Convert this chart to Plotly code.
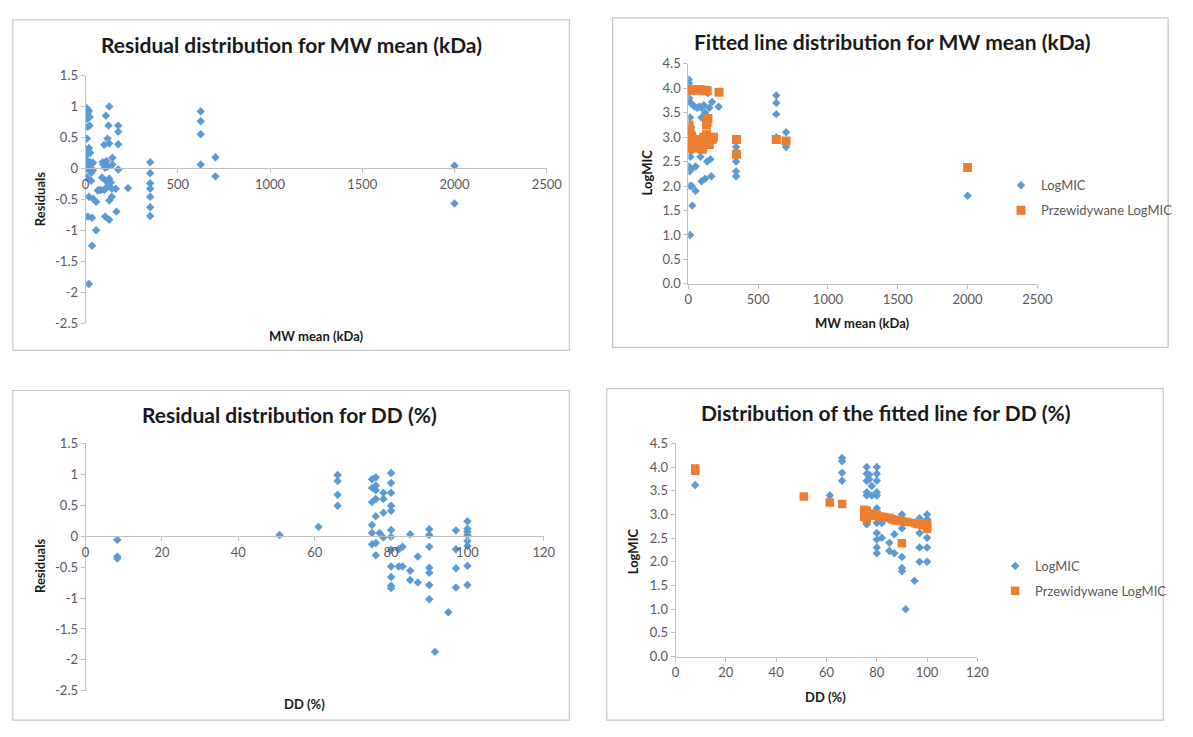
import plotly.graph_objects as go

# ---------------- data ----------------
# Panel 1: residuals vs MW mean (kDa)
mw_res_x = [7, 18, 12, 10, 22, 12, 22, 7, 18, 7, 25, 12, 40, 5, 30, 40, 7, 30, 18, 40, 12, 35, 57, 35, 18, 20, 15, 25, 10,
            66, 83, 101, 57, 96, 106, 113, 110, 128, 101, 119, 128, 124, 89, 110, 128, 137, 106, 128, 128, 142, 142, 145,
            145, 177, 177, 177, 177, 163, 167, 230, 75, 120, 92, 115,
            350, 350, 350, 350, 350, 350, 350,
            624, 624, 624, 624, 704, 704, 2000, 2000]
mw_res_y = [0.97, 0.93, 0.9, 0.8, 0.83, 0.67, 0.69, 0.48, 0.33, 0.22, 0.25, 0.12, 0.09, 0.01, -0.07, -0.03, -0.15, -0.2,
            -0.46, -0.49, -0.78, -0.8, -1.0, -1.25, -1.87, 0.05, -0.02, 0.1, 0.3,
            -0.36, -0.35, -0.35, -0.54, 0.06, 0.01, 0.12, 0.85, 1.0, 0.38, 0.48, 0.4, 0.69, -0.15, -0.2, -0.17, -0.23,
            -0.78, -0.83, -0.52, -0.46, -0.33, 0.06, 0.17, 0.69, 0.59, 0.39, -0.02, -0.33, -0.7, -0.32, -0.35, 0.03,
            0.1, -0.3,
            0.1, -0.08, -0.24, -0.33, -0.46, -0.63, -0.77,
            0.92, 0.76, 0.55, 0.06, 0.18, -0.13, 0.04, -0.57]

# Panel 2: LogMIC and predicted LogMIC vs MW mean (kDa)
mw_fit_x = [3, 5, 8, 5, 10, 12, 20, 15, 5, 10, 20, 12, 28, 12, 52, 25, 8, 10, 18, 25,
            64, 80, 95, 110, 170, 95, 120, 150, 95, 165, 135, 87, 158, 52, 120, 130, 140, 217, 70, 130, 30, 45,
            342, 342, 342, 342, 342, 630, 630, 630, 630, 700, 700, 2000]
mw_logmic = [4.18, 4.1, 3.95, 3.8, 3.72, 3.4, 3.2, 2.6, 2.4, 2.3, 2.35, 2.0, 1.6, 1.0, 1.9, 2.0, 2.8, 3.0, 3.7, 3.1,
             3.6, 3.62, 3.6, 3.65, 3.72, 3.4, 3.5, 3.6, 2.1, 2.2, 2.5, 2.6, 2.55, 2.4, 2.15, 2.95, 3.9, 3.62, 2.75,
             3.05, 3.95, 3.62,
             2.8, 2.7, 2.5, 2.3, 2.2, 3.85, 3.7, 3.47, 3.0, 3.1, 2.8, 1.8]
mw_pred_x = [3, 8, 15, 20, 5, 8, 12, 5, 10, 15, 20, 8, 25, 18, 12, 28,
             40, 60, 80, 100, 120, 135, 60, 70, 80, 90, 100, 110, 120, 130, 140, 150, 160, 170, 180, 135, 140, 130,
             100, 115, 90, 145,
             220, 345, 345, 630, 700, 2000]
mw_pred = [3.97, 3.97, 3.97, 3.96, 3.25, 3.15, 3.05, 2.95, 2.88, 2.8, 2.78, 2.75, 3.0, 2.9, 3.1, 2.85,
           3.97, 3.97, 3.97, 3.96, 3.96, 3.95, 2.9, 2.8, 2.95, 2.85, 2.75, 3.0, 2.9, 3.05, 2.95, 2.85, 3.0, 2.95, 3.0,
           3.3, 3.38, 3.25, 2.8, 2.85, 2.78, 2.9,
           3.92, 2.95, 2.65, 2.95, 2.92, 2.38]

# Panel 3: residuals vs DD (%)
dd_res_x = [8.3, 8.3, 8.3, 50.8, 61,
            66, 66, 66, 66,
            75, 75, 75, 75, 75, 75,
            76, 76, 76, 76, 76, 76, 76,
            78, 78, 78, 78, 77,
            80, 80, 80, 80, 80, 80, 80, 80, 80, 80, 80, 80,
            82, 82, 83, 83, 85, 85, 85, 87, 87,
            90, 90, 90, 90, 90, 90, 90, 91.5, 95,
            97, 97, 97, 97,
            100, 100, 100, 100, 100, 100, 100, 100]
dd_res_y = [-0.06, -0.33, -0.36, 0.02, 0.15,
            0.99, 0.89, 0.67, 0.49,
            0.92, 0.78, 0.55, 0.18, 0.05, -0.13,
            0.95, 0.82, 0.74, 0.6, 0.32, -0.11, -0.31,
            0.7, 0.6, 0.38, -0.02, 0.05,
            1.02, 0.86, 0.7, 0.49, 0.41, 0.1, -0.01, -0.22, -0.49, -0.66, -0.8, -0.84,
            -0.21, -0.49, -0.17, -0.49, 0.03, -0.56, -0.71, -0.33, -0.75,
            0.11, 0.02, -0.17, -0.51, -0.59, -0.79, -1.02, -1.87, -1.23,
            0.09, -0.21, -0.52, -0.83,
            0.24, 0.12, 0.07, 0.02, -0.08, -0.16, -0.48, -0.79]

# Panel 4: LogMIC and predicted LogMIC vs DD (%)
dd_fit_x = [7.8, 61.3,
            66.2, 66.2, 66.2, 66.2,
            76, 76, 76, 76, 76, 76, 77, 77, 78, 78,
            80, 80, 80, 80, 80, 80, 80, 80, 80, 80, 80,
            82, 82, 85, 85, 87, 87,
            90, 90, 90, 90, 90, 91.5, 95,
            97, 97, 97, 97,
            100, 100, 100, 100, 100, 100, 100]
dd_logmic = [3.62, 3.4,
             4.19, 4.12, 3.88, 3.71,
             4.0, 3.86, 3.71, 3.47, 3.4, 2.79, 3.74, 3.84, 3.6, 3.4,
             4.0, 3.86, 3.71, 3.47, 3.4, 3.13, 2.82, 2.61, 2.47, 2.3, 2.18,
             2.82, 2.51, 2.4, 2.23, 2.58, 2.18,
             3.0, 2.71, 2.1, 1.87, 1.8, 1.0, 1.6,
             2.92, 2.61, 2.3, 2.0,
             3.0, 2.9, 2.82, 2.68, 2.51, 2.3, 2.0]
dd_pred_x = [7.8, 7.8, 51, 61.3, 66.2,
             75, 75, 76, 76, 77, 78, 79, 80, 80, 81, 82, 83, 85, 86, 87, 88, 90, 90, 92, 95, 96, 97, 98, 99,
             100, 100, 100, 76, 75]
dd_pred = [3.97, 3.92, 3.38, 3.25, 3.22,
           3.05, 2.95, 3.08, 3.0, 3.02, 3.0, 2.98, 2.97, 3.0, 2.95, 2.95, 2.94, 2.93, 2.9, 2.88, 2.87, 2.86, 2.39,
           2.84, 2.82, 2.8, 2.8, 2.78, 2.77, 2.75, 2.7, 2.8, 2.9, 3.1]

titles = ["Residual distribution for MW mean (kDa)",
          "Fitted line distribution for MW mean (kDa)",
          "Residual distribution for DD (%)",
          "Distribution of the fitted line for DD (%)"]
series_names = ["LogMIC", "Przewidywane LogMIC"]
res_ticks = [1.5, 1, 0.5, 0, -0.5, -1, -1.5, -2, -2.5]
res_tick_text = ["1.5", "1", "0.5", "0", "-0.5", "-1", "-1.5", "-2", "-2.5"]

# ---------------- layout helpers ----------------
W, H = 1193, 737
BLUE = "#5B9BD5"
ORANGE = "#ED7D31"
FONT = "Lato"
GREY = "#595959"
AX = "#bfbfbf"


def px(x):
    return x / W


def py(y):
    return 1 - y / H


fig = go.Figure()

# Panel 1
fig.add_trace(go.Scatter(x=mw_res_x, y=mw_res_y, mode="markers", xaxis="x", yaxis="y", showlegend=False,
                         marker=dict(symbol="diamond", size=6.5, color=BLUE)))
# Panel 2
fig.add_trace(go.Scatter(x=mw_fit_x, y=mw_logmic, mode="markers", xaxis="x2", yaxis="y2", name=series_names[0],
                         legend="legend", legendgroup="a",
                         marker=dict(symbol="diamond", size=6.5, color=BLUE)))
fig.add_trace(go.Scatter(x=mw_pred_x, y=mw_pred, mode="markers", xaxis="x2", yaxis="y2", name=series_names[1],
                         legend="legend", legendgroup="b",
                         marker=dict(symbol="square", size=9, color=ORANGE)))
# Panel 3
fig.add_trace(go.Scatter(x=dd_res_x, y=dd_res_y, mode="markers", xaxis="x3", yaxis="y3", showlegend=False,
                         marker=dict(symbol="diamond", size=6.5, color=BLUE)))
# Panel 4
fig.add_trace(go.Scatter(x=dd_fit_x, y=dd_logmic, mode="markers", xaxis="x4", yaxis="y4", name=series_names[0],
                         legend="legend2", legendgroup="c",
                         marker=dict(symbol="diamond", size=6.5, color=BLUE)))
fig.add_trace(go.Scatter(x=dd_pred_x, y=dd_pred, mode="markers", xaxis="x4", yaxis="y4", name=series_names[1],
                         legend="legend2", legendgroup="d",
                         marker=dict(symbol="square", size=8.5, color=ORANGE)))

common = dict(showgrid=False, zeroline=False, showline=True, linecolor=AX, linewidth=1, ticks="outside",
              ticklen=4, tickcolor=AX, tickfont=dict(family=FONT, size=13, color=GREY), fixedrange=True)

# plot area pixel boxes: (left, right, top, bottom)
b1 = (83, 552, 69, 322)
b2 = (696, 1051, 57, 282)
b3 = (83, 549, 445, 698)
b4 = (683, 990, 445, 663)

fig.update_layout(
    xaxis=dict(domain=[px(b1[0]), px(b1[1])], range=[0, 2500], dtick=500, anchor="free",
               position=py(b1[2] + (b1[3] - b1[2]) * 1.5 / 4), **common),
    yaxis=dict(domain=[py(b1[3]), py(b1[2])], range=[-2.5, 1.5], tickvals=res_ticks, ticktext=res_tick_text,
               anchor="x", **common),
    xaxis2=dict(domain=[px(b2[0]), px(b2[1])], range=[0, 2500], dtick=500, anchor="y2", **common),
    yaxis2=dict(domain=[py(b2[3]), py(b2[2])], range=[0, 4.5], dtick=0.5, tickformat=".1f", anchor="x2", **common),
    xaxis3=dict(domain=[px(b3[0]), px(b3[1])], range=[0, 120], dtick=20, anchor="free",
                position=py(b3[2] + (b3[3] - b3[2]) * 1.5 / 4), **common),
    yaxis3=dict(domain=[py(b3[3]), py(b3[2])], range=[-2.5, 1.5], tickvals=res_ticks, ticktext=res_tick_text,
                anchor="x3", **common),
    xaxis4=dict(domain=[px(b4[0]), px(b4[1])], range=[0, 120], dtick=20, anchor="y4", **common),
    yaxis4=dict(domain=[py(b4[3]), py(b4[2])], range=[0, 4.5], dtick=0.5, tickformat=".1f", anchor="x4", **common),
)

legend_common = dict(font=dict(family=FONT, size=13, color=GREY), bgcolor="rgba(0,0,0,0)", xanchor="left",
                     yanchor="top", itemwidth=30, traceorder="grouped", tracegroupgap=5, itemsizing="trace")
fig.update_layout(
    legend=dict(x=px(1014), y=py(166), **legend_common),
    legend2=dict(x=px(1008), y=py(555), **legend_common),
)

# frames
frames = [(9, 575, 12, 350), (619, 1184, 10, 347), (9, 575, 391, 728), (613, 1179, 389, 728)]
shapes = []
for (l, r, t, b) in frames:
    shapes.append(dict(type="rect", xref="paper", yref="paper", x0=px(l), x1=px(r), y0=py(b), y1=py(t),
                       line=dict(color="#c6c6c6", width=1.2), layer="below"))

ann = []
title_pos = [(292, 37), (903, 34), (290, 416), (897, 413)]
for t, (x, y) in zip(titles, title_pos):
    ann.append(dict(text="<b>%s</b>" % t, x=px(x), y=py(y), xref="paper", yref="paper", showarrow=False,
                    xanchor="center", yanchor="middle", font=dict(family=FONT, size=21, color="#1a1a1a")))

axis_titles = [("MW mean (kDa)", 318, 335, 0), ("Residuals", 36, 195, -90),
               ("MW mean (kDa)", 873, 322, 0), ("LogMIC", 654, 168, -90),
               ("DD (%)", 306, 711, 0), ("Residuals", 36, 570, -90),
               ("DD (%)", 836, 704, 0), ("LogMIC", 640, 555, -90)]
for t, x, y, a in axis_titles:
    ann.append(dict(text="<b>%s</b>" % t, x=px(x), y=py(y), xref="paper", yref="paper", showarrow=False,
                    xanchor="center", yanchor="middle", textangle=a,
                    font=dict(family=FONT, size=13, color="#1a1a1a")))

fig.update_layout(width=W, height=H, margin=dict(l=0, r=0, t=0, b=0), paper_bgcolor="white",
                  plot_bgcolor="rgba(0,0,0,0)", shapes=shapes, annotations=ann, autosize=False)

fig.write_html("out.html", config=dict(displayModeBar=False))
